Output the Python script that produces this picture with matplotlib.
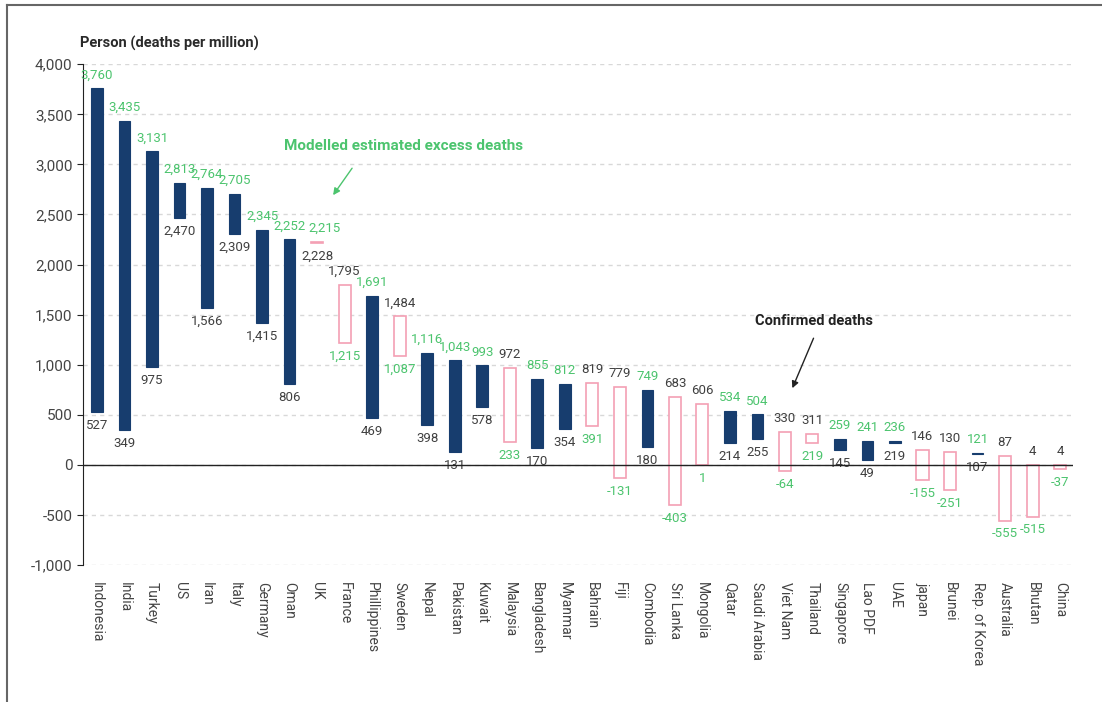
import matplotlib.pyplot as plt
import numpy as np

plt.rcParams['font.family'] = ['Roboto', 'DejaVu Sans']

countries = ['Indonesia', 'India', 'Turkey', 'US', 'Iran', 'Italy', 'Germany', 'Oman', 'UK',
             'France', 'Phillippines', 'Sweden', 'Nepal', 'Pakistan', 'Kuwait', 'Malaysia',
             'Bangladesh', 'Myanmar', 'Bahrain', 'Fiji', 'Combodia', 'Sri Lanka', 'Mongolia',
             'Qatar', 'Saudi Arabia', 'Viet Nam', 'Thailand', 'Singapore', 'Lao PDF', 'UAE',
             'japan', 'Brunei', 'Rep. of Korea', 'Australia', 'Bhutan', 'China']
excess = [3760, 3435, 3131, 2813, 2764, 2705, 2345, 2252, 2215, 1215, 1691, 1087, 1116, 1043,
          993, 233, 855, 812, 391, -131, 749, -403, 1, 534, 504, -64, 219, 259, 241, 236,
          -155, -251, 121, -555, -515, -37]
confirmed = [527, 349, 975, 2470, 1566, 2309, 1415, 806, 2228, 1795, 469, 1484, 398, 131,
             578, 972, 170, 354, 819, 779, 180, 683, 606, 214, 255, 330, 311, 145, 49, 219,
             146, 130, 107, 87, 4, 4]

navy = '#173d6e'
pink = '#f4a0b4'
green = '#4cc46e'
dark = '#404040'

fig = plt.figure(figsize=(11.02, 7.02), dpi=100)
ax = fig.add_axes([0.0753, 0.195, 0.8984, 0.7135])

x = np.arange(len(countries))
ex = np.array(excess)
co = np.array(confirmed)
low = np.minimum(ex, co)
high = np.maximum(ex, co)
up = ex > co

ax.bar(x[up], (high - low)[up], bottom=low[up], width=0.42, color=navy,
       edgecolor=navy, linewidth=0.8, zorder=3)
ax.bar(x[~up], (high - low)[~up], bottom=low[~up], width=0.44, facecolor='white',
       edgecolor=pink, linewidth=1.2, zorder=3)

for i in range(len(countries)):
    # green (excess) label goes on top when excess is higher, or when the gap is tiny (UK)
    green_top = ex[i] >= co[i] - 20
    if green_top:
        top_txt, top_col, bot_txt, bot_col = ex[i], green, co[i], dark
    else:
        top_txt, top_col, bot_txt, bot_col = co[i], dark, ex[i], green
    dx = 5 if countries[i] == 'UK' else 0
    ax.annotate(f'{top_txt:,}', (x[i], high[i]), xytext=(dx, 5), textcoords='offset points',
                ha='center', va='bottom', fontsize=9.5, color=top_col)
    ax.annotate(f'{bot_txt:,}', (x[i], low[i]), xytext=(0, -5), textcoords='offset points',
                ha='center', va='top', fontsize=9.5, color=bot_col)

ax.set_ylim(-1000, 4000)
ax.set_xlim(-0.51, len(countries) - 0.53)
ax.set_yticks(np.arange(-1000, 4001, 500))
ax.yaxis.set_major_formatter(plt.FuncFormatter(lambda v, p: f'{int(v):,}'))
ax.set_xticks(x)
ax.set_xticklabels(countries, rotation=270, fontsize=10, color='#444444')
ax.tick_params(axis='x', length=0, pad=12)
ax.tick_params(axis='y', labelsize=11, colors='#444444', length=4, color='#222222')
ax.grid(axis='y', linestyle=(0, (3, 3)), color='#d8d8d8', linewidth=1, zorder=0)
ax.axhline(0, color='#222222', linewidth=1, zorder=4)
for s in ['top', 'right', 'bottom']:
    ax.spines[s].set_visible(False)
ax.spines['left'].set_color('#222222')

fig.text(0.0725, 0.938, 'Person (deaths per million)', fontsize=10.5, fontweight='bold',
         color='#2a2a2a', va='center')

ax.text(11.14, 3180, 'Modelled estimated excess deaths', ha='center', va='center',
        fontsize=11, fontweight='bold', color=green)
ax.annotate('', xy=(8.58, 2693), xytext=(9.27, 2962),
            arrowprops=dict(arrowstyle='-|>', color=green, lw=1, shrinkA=0, shrinkB=0))
ax.text(26.06, 1440, 'Confirmed deaths', ha='center', va='center',
        fontsize=10.5, fontweight='bold', color='#222222')
ax.annotate('', xy=(25.27, 766), xytext=(26.04, 1265),
            arrowprops=dict(arrowstyle='-|>', color='#222222', lw=1, shrinkA=0, shrinkB=0))

# frame around the figure (top and left edges)
fig.add_artist(plt.Line2D([0.0064, 1.0], [0.9935, 0.9935], color='#666666', lw=1.5))
fig.add_artist(plt.Line2D([0.0064, 0.0064], [0.0, 0.9935], color='#666666', lw=1.5))

fig.savefig('out.png', dpi=100)
